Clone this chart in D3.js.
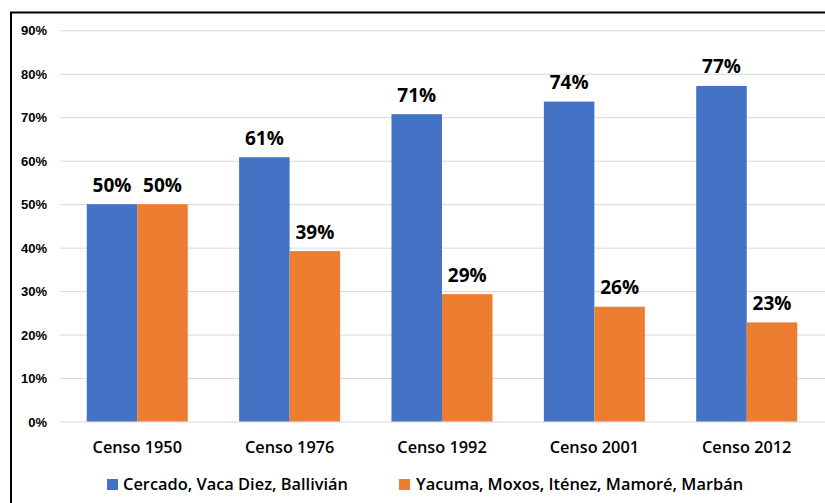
<!DOCTYPE html>
<html lang="es">
<head>
    <meta charset="UTF-8">
    <title>Censos</title>
    <style>
        body { margin: 0; padding: 0; background: #fff; }
        svg { display: block; font-family: "Open Sans", sans-serif; }
        .axis .domain { display: none; }
        .grid line { stroke: #d9d9d9; stroke-width: 1; }
        .axis text { font-size: 13px; font-weight: 600; fill: #000; }
    </style>
</head>
<body>
    <script src="https://d3js.org/d3.v7.min.js"></script>
    <script>
        // datos
        const categorias = ["Censo 1950", "Censo 1976", "Censo 1992", "Censo 2001", "Censo 2012"];
        const series = ["Cercado, Vaca Diez, Ballivián", "Yacuma, Moxos, Iténez, Mamoré, Marbán"];
        const cercado = [50.0, 60.8, 70.7, 73.6, 77.2];
        const yacuma = [50.0, 39.2, 29.3, 26.4, 22.8];
        const etiquetas = ["50%", "61%", "71%", "74%", "77%"];
        const etiquetasY = ["50%", "39%", "29%", "26%", "23%"];
        const ticks = [0, 10, 20, 30, 40, 50, 60, 70, 80, 90];
        const colores = ["#4472C4", "#ED7D31"];

        const W = 825, H = 503;
        const mIzq = 61, mDer = 823, mSup = 30.3, mInf = 421.5;

        const svg = d3.select("body").append("svg")
            .attr("width", W)
            .attr("height", H);

        // marco del gráfico
        svg.append("path")
            .attr("d", `M11,${H + 2} V12.5 H${W + 2}`)
            .attr("fill", "none")
            .attr("stroke", "#000")
            .attr("stroke-width", 2);

        const x = d3.scaleBand()
            .domain(categorias)
            .range([mIzq, mDer])
            .paddingInner(0.337)
            .paddingOuter(0.169);

        const xs = d3.scaleBand()
            .domain([0, 1])
            .range([0, x.bandwidth()]);

        const y = d3.scaleLinear()
            .domain([0, 90])
            .range([mInf, mSup]);

        // eje y con líneas de cuadrícula
        const ejeY = svg.append("g")
            .attr("class", "axis grid")
            .attr("transform", "translate(60,0)")
            .call(d3.axisLeft(y)
                .tickValues(ticks)
                .tickSize(-(W - 60))
                .tickPadding(13)
                .tickFormat(d => d + "%"));
        ejeY.selectAll(".tick text").attr("dy", "0.36em");

        const datos = categorias.map((c, i) => ({
            cat: c,
            vals: [
                { s: 0, v: cercado[i], lab: etiquetas[i] },
                { s: 1, v: yacuma[i], lab: etiquetasY[i] }
            ]
        }));

        const grupos = svg.selectAll(".grupo")
            .data(datos)
            .enter().append("g")
            .attr("class", "grupo")
            .attr("transform", d => `translate(${x(d.cat)},0)`);

        grupos.selectAll("rect")
            .data(d => d.vals)
            .enter().append("rect")
            .attr("x", d => xs(d.s))
            .attr("width", xs.bandwidth())
            .attr("y", d => y(d.v))
            .attr("height", d => y(0) - y(d.v))
            .attr("fill", d => colores[d.s]);

        grupos.selectAll("text.valor")
            .data(d => d.vals)
            .enter().append("text")
            .attr("class", "valor")
            .attr("x", d => xs(d.s) + xs.bandwidth() / 2)
            .attr("y", d => y(d.v) - 12.5)
            .attr("text-anchor", "middle")
            .style("font-size", "19px")
            .style("font-weight", "700")
            .text(d => d.lab);

        // etiquetas de categorías
        svg.selectAll(".cat")
            .data(categorias)
            .enter().append("text")
            .attr("class", "cat")
            .attr("x", d => x(d) + x.bandwidth() / 2)
            .attr("y", 453)
            .attr("text-anchor", "middle")
            .style("font-size", "16.3px")
            .style("font-weight", "600")
            .text(d => d);

        // leyenda
        const leyX = [107, 399];
        const ley = svg.selectAll(".ley")
            .data(series)
            .enter().append("g")
            .attr("class", "ley")
            .attr("transform", (d, i) => `translate(${leyX[i]},479)`);
        ley.append("rect")
            .attr("width", 11)
            .attr("height", 11)
            .attr("fill", (d, i) => colores[i]);
        ley.append("text")
            .attr("x", (d, i) => i === 0 ? 16 : 17)
            .attr("y", 11)
            .style("font-size", "16.4px")
            .style("font-weight", "600")
            .text(d => d);
    </script>
</body>
</html>
